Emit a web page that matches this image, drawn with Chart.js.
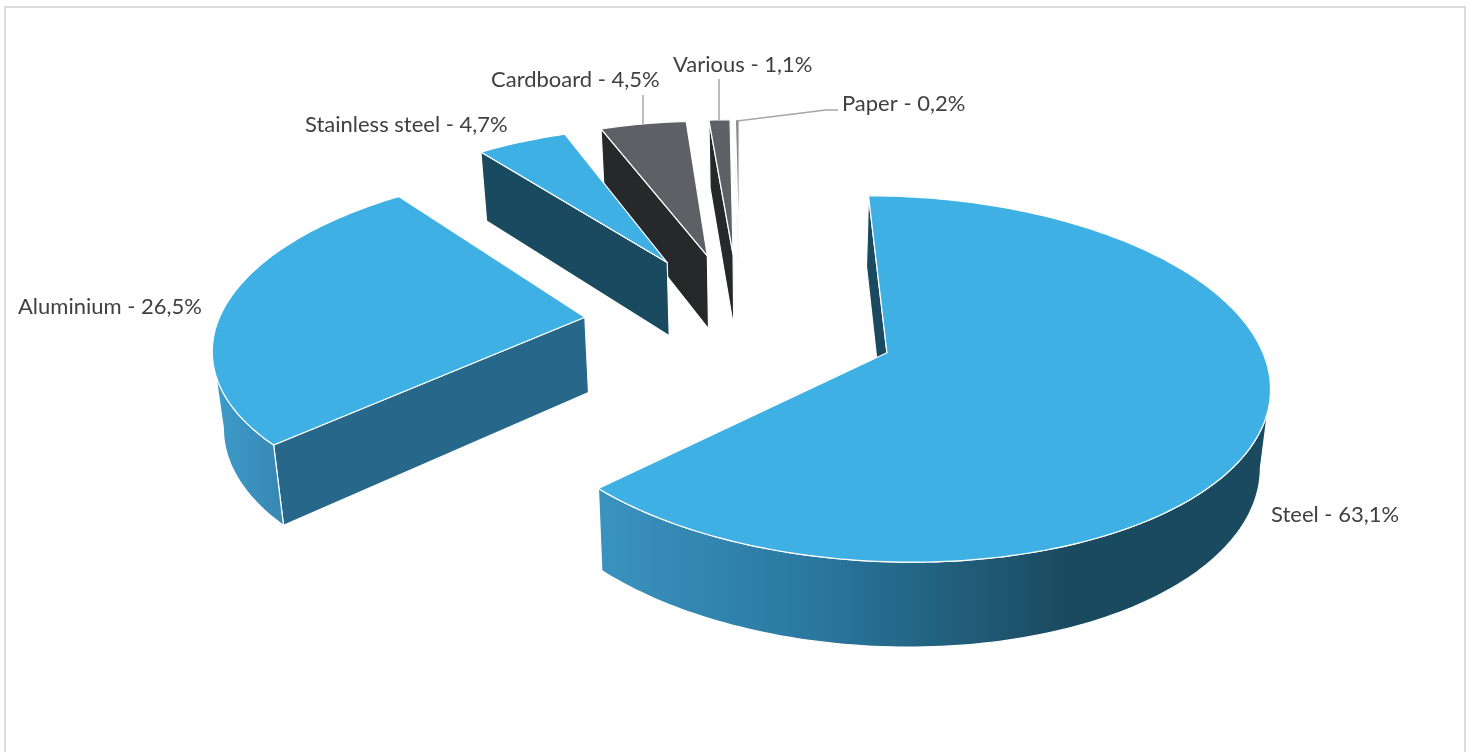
<!DOCTYPE html>
<html>
<head>
<meta charset="utf-8">
<title>Materials</title>
<script src="https://cdn.jsdelivr.net/npm/chart.js@4/dist/chart.umd.min.js"></script>
<style>
  html, body { margin: 0; background: #fff; overflow: hidden; }
  #frame { position: absolute; left: 4px; top: 6px; width: 1458px; height: 780px; border: 2px solid #dcdcdc; }
  #pie { position: absolute; left: 0; top: 0; }
</style>
</head>
<body>
<div id="frame"></div>
<canvas id="pie" width="1470" height="752"></canvas>
<script>
const categories = ['Steel', 'Aluminium', 'Stainless steel', 'Cardboard', 'Various', 'Paper'];
const shares = [63.1, 26.5, 4.7, 4.5, 1.1, 0.2];

const topColors = ['#3EB0E4', '#3EB0E4', '#3EB0E4', '#5F6066', '#5F6066', '#8A8B90'];
const cutColors = ['#1A4A5F', '#26678A', '#1A4A5F', '#27282A', '#27282A', '#6b6c70'];

// label anchor (left, middle) and leader line for each slice
const labelSpots = [
  { x: 1271, y: 515 },
  { x: 18, y: 307 },
  { x: 305, y: 125 },
  { x: 491, y: 80, leader: [[643, 95], [643, 124]] },
  { x: 673, y: 65, leader: [[719, 79], [719, 120]] },
  { x: 842, y: 104, leader: [[737, 121], [826, 110], [838, 110]] }
];

// the tilted plane: pie centre on screen, half axes and perspective
const view = { x: 740, y: 323, f: 367, b: 171, p: 0.14 };

function project(arc, px, py) {
  const u = (px - arc.x) / arc.outerRadius;
  const v = (py - arc.y) / arc.outerRadius;
  const w = 1 - view.p * v;
  return { x: view.x + view.f * u / w, y: view.y + view.b * v / w };
}

// same point on the underside of the pie
function lower(pt) {
  return { x: 767 + (pt.x - 767) * 0.98, y: pt.y * 1.039 + 63 };
}

function trace(ctx, pts) {
  ctx.beginPath();
  pts.forEach((pt, i) => i ? ctx.lineTo(pt.x, pt.y) : ctx.moveTo(pt.x, pt.y));
  ctx.closePath();
}

function wallFill(ctx, index, cut) {
  if (index === 0) {
    const g = ctx.createLinearGradient(597, 0, 1270, 0);
    g.addColorStop(0, '#3A93BF');
    g.addColorStop(0.3, '#2B7AA3');
    g.addColorStop(0.7, '#1A4A5F');
    g.addColorStop(1, '#1A4A5F');
    return g;
  }
  if (index === 1) {
    const g = ctx.createLinearGradient(215, 0, 285, 0);
    g.addColorStop(0, '#3D9BCA');
    g.addColorStop(1, '#3787B2');
    return g;
  }
  return cut;
}

function drawSlice(ctx, arc, index) {
  const off = arc.options.offset / 4;
  const mid = (arc.startAngle + arc.endAngle) / 2;
  const ox = arc.x + Math.cos(mid) * off;
  const oy = arc.y + Math.sin(mid) * off;
  const rim = [];
  const steps = Math.max(2, Math.ceil((arc.endAngle - arc.startAngle) / 0.02));
  for (let i = 0; i <= steps; i++) {
    const a = arc.startAngle + (arc.endAngle - arc.startAngle) * i / steps;
    rim.push(project(arc, ox + Math.cos(a) * arc.outerRadius, oy + Math.sin(a) * arc.outerRadius));
  }
  const apex = project(arc, ox, oy);
  const first = rim[0];
  const last = rim[rim.length - 1];

  ctx.strokeStyle = '#fff';
  ctx.lineWidth = 1.2;
  ctx.lineJoin = 'round';

  // cut faces that turn towards the viewer
  const cuts = [];
  if (first.x < apex.x) cuts.push(first);
  if (last.x > apex.x) cuts.push(last);
  cuts.forEach(end => {
    trace(ctx, [apex, end, lower(end), lower(apex)]);
    ctx.fillStyle = cutColors[index];
    ctx.fill();
    ctx.stroke();
  });

  // outer wall, front facing part only
  let run = [];
  const flush = () => {
    if (run.length > 1) {
      trace(ctx, run.concat(run.map(lower).reverse()));
      ctx.fillStyle = wallFill(ctx, index, cutColors[index]);
      ctx.fill();
      ctx.stroke();
    }
    run = [];
  };
  for (let i = 1; i < rim.length; i++) {
    if (rim[i].x < rim[i - 1].x) {
      if (!run.length) run.push(rim[i - 1]);
      run.push(rim[i]);
    } else {
      flush();
    }
  }
  flush();

  trace(ctx, [apex].concat(rim));
  ctx.fillStyle = arc.options.backgroundColor;
  ctx.fill();
  ctx.stroke();
}

function labelText(i) {
  return categories[i] + ' - ' + shares[i].toFixed(1).replace('.', ',') + '%';
}

const tiltedPie = {
  id: 'tiltedPie',
  beforeDatasetsDraw(chart) {
    const ctx = chart.ctx;
    const arcs = chart.getDatasetMeta(0).data;
    ctx.save();
    for (let i = arcs.length - 1; i >= 0; i--) drawSlice(ctx, arcs[i], i);

    ctx.strokeStyle = '#a6a6a6';
    ctx.lineWidth = 1.5;
    ctx.fillStyle = '#404040';
    ctx.font = '22px Lato';
    ctx.textAlign = 'left';
    ctx.textBaseline = 'middle';
    labelSpots.forEach((spot, i) => {
      if (spot.leader) {
        ctx.beginPath();
        spot.leader.forEach((p, j) => j ? ctx.lineTo(p[0], p[1]) : ctx.moveTo(p[0], p[1]));
        ctx.stroke();
      }
      ctx.fillText(labelText(i), spot.x, spot.y);
    });
    ctx.restore();
    return false;
  }
};

new Chart(document.getElementById('pie'), {
  type: 'pie',
  data: {
    labels: categories,
    datasets: [{
      data: shares,
      backgroundColor: topColors,
      borderWidth: 0,
      offset: 346
    }]
  },
  options: {
    responsive: false,
    animation: false,
    devicePixelRatio: 1,
    rotation: 0,
    events: [],
    plugins: { legend: { display: false }, tooltip: { enabled: false } }
  },
  plugins: [tiltedPie]
});
</script>
</body>
</html>
